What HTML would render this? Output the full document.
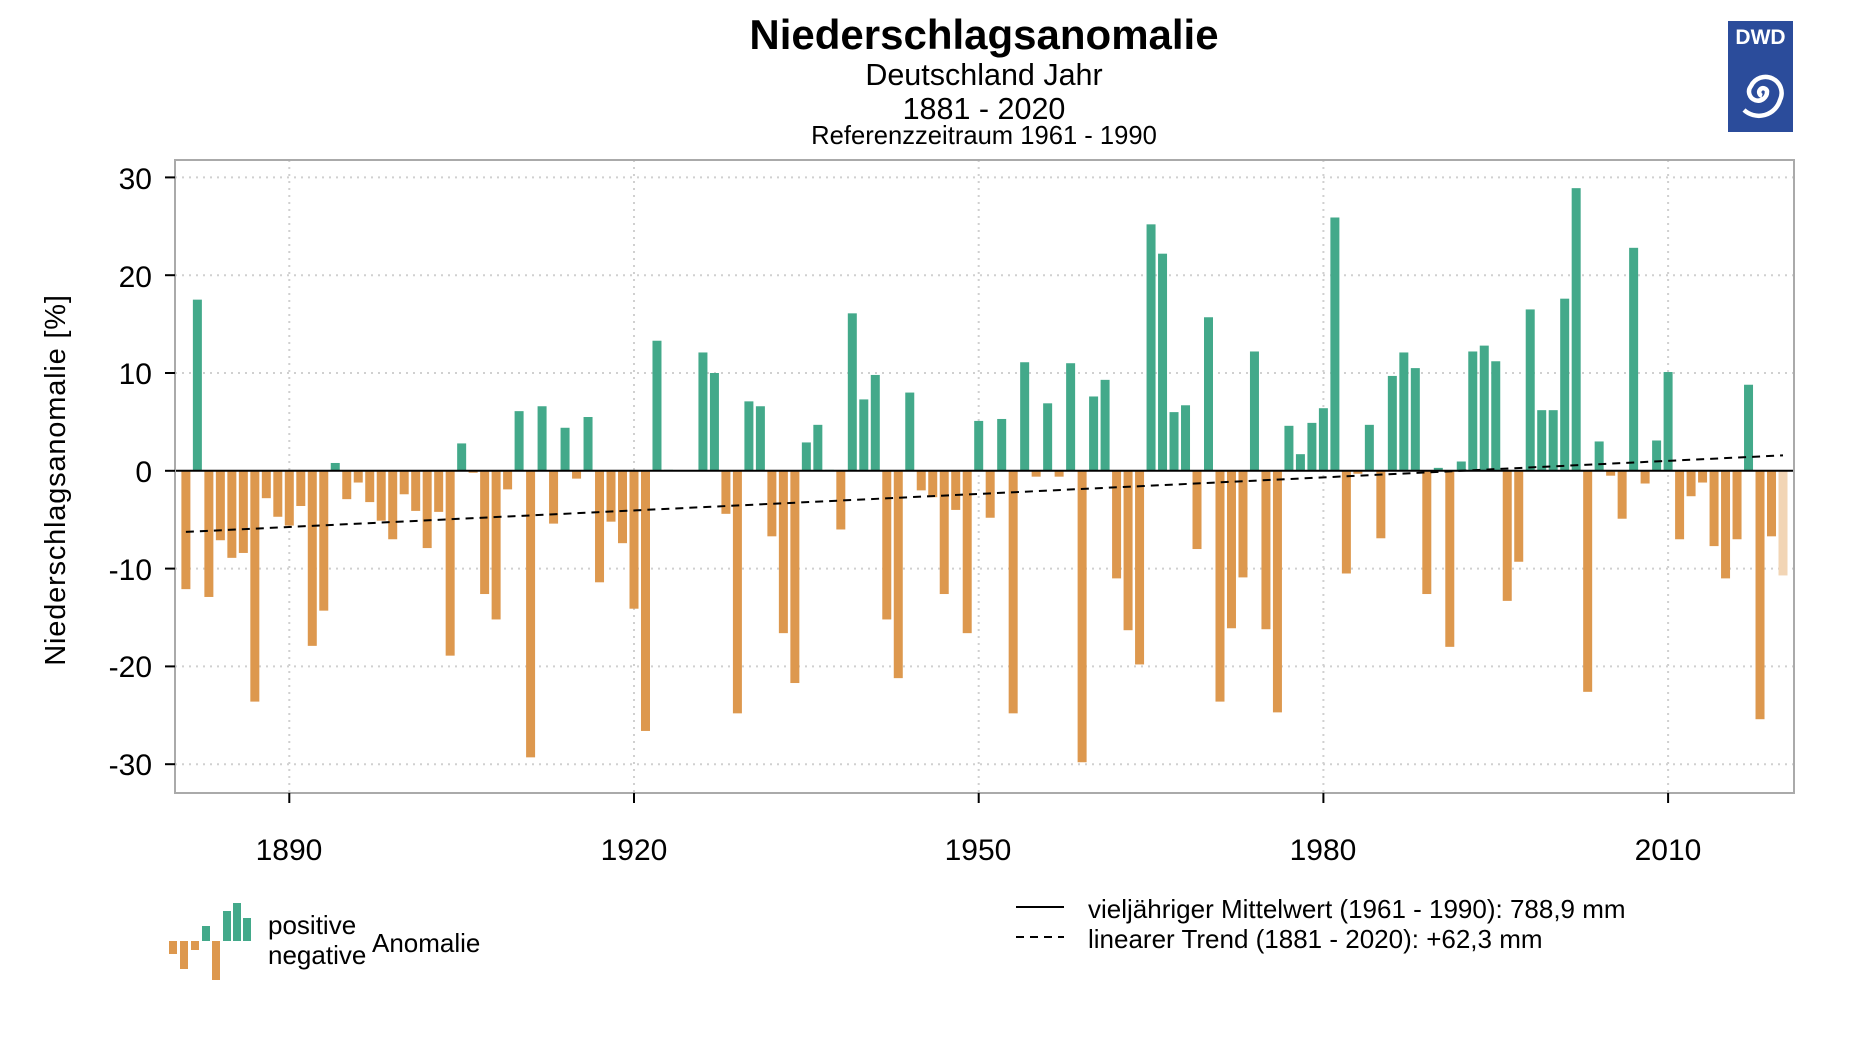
<!DOCTYPE html>
<html><head><meta charset="utf-8"><style>
html,body{margin:0;padding:0;background:#fff;}
svg{display:block;font-family:"Liberation Sans",Arial,sans-serif;}
</style></head><body>
<svg id="s" width="1860" height="1046" viewBox="0 0 1860 1046" xmlns="http://www.w3.org/2000/svg">
<rect width="1860" height="1046" fill="#fff"/>
<text x="984" y="49" font-size="42" font-weight="bold" text-anchor="middle">Niederschlagsanomalie</text>
<text x="984" y="85" font-size="30.5" text-anchor="middle">Deutschland Jahr</text>
<text x="984" y="119" font-size="30.5" text-anchor="middle">1881 - 2020</text>
<text x="984" y="144" font-size="25.6" text-anchor="middle">Referenzzeitraum 1961 - 1990</text>
<g id="logo">
<rect x="1728" y="21" width="65" height="111" fill="#2b4c9b"/>
<text x="1760.5" y="44" font-size="21" font-weight="bold" fill="#fff" text-anchor="middle">DWD</text>
<path d="M1762 96 a4 4 0 1 1 5 -5 a9 9 0 1 1 -16 -5 a16 16 0 1 1 29 14 a22 22 0 0 1 -36 10" fill="none" stroke="#fff" stroke-width="4.5"/>
</g>
<g id="grid" stroke="#d0d0d0" stroke-width="2" stroke-dasharray="2,5"></g>
<g id="bars"></g>
<line x1="174" y1="470.8" x2="1794" y2="470.8" stroke="#000" stroke-width="2"/>
<line id="trend" stroke="#000" stroke-width="2" stroke-dasharray="8,6"/>
<rect x="175" y="160" width="1619" height="633" fill="none" stroke="#aaa" stroke-width="2"/>
<g id="ticks" stroke="#000" stroke-width="2"></g>
<g font-size="30" text-anchor="end">
<text x="152" y="189">30</text><text x="152" y="287">20</text><text x="152" y="384">10</text>
<text x="152" y="482">0</text><text x="152" y="580">-10</text><text x="152" y="677">-20</text><text x="152" y="775">-30</text>
</g>
<g font-size="30" text-anchor="middle">
<text x="289" y="860">1890</text><text x="634" y="860">1920</text><text x="978" y="860">1950</text>
<text x="1323" y="860">1980</text><text x="1668" y="860">2010</text>
</g>
<text transform="translate(65,480) rotate(-90)" font-size="29" text-anchor="middle" letter-spacing="0.8">Niederschlagsanomalie [%]</text>
<g>
<rect x="169" y="941" width="8" height="13" fill="#dd984e"/>
<rect x="180" y="941" width="8" height="28" fill="#dd984e"/>
<rect x="191" y="941" width="8" height="9" fill="#dd984e"/>
<rect x="212" y="941" width="8" height="39" fill="#dd984e"/>
<rect x="202" y="926" width="8" height="15" fill="#43a98a"/>
<rect x="223" y="911" width="8" height="30" fill="#43a98a"/>
<rect x="233" y="903" width="8" height="38" fill="#43a98a"/>
<rect x="243" y="918" width="8" height="23" fill="#43a98a"/>
<text x="268" y="934" font-size="26">positive</text>
<text x="268" y="964" font-size="26">negative</text>
<text x="372" y="952" font-size="26">Anomalie</text>
<line x1="1016" y1="907" x2="1064" y2="907" stroke="#000" stroke-width="2"/>
<line x1="1016" y1="937" x2="1064" y2="937" stroke="#000" stroke-width="2" stroke-dasharray="8,6"/>
<text x="1088" y="918" font-size="26">vieljähriger Mittelwert (1961 - 1990): 788,9 mm</text>
<text x="1088" y="948" font-size="26">linearer Trend (1881 - 2020): +62,3 mm</text>
</g>
</svg>
<script>
var v=[-12.1,17.5,-12.9,-7.1,-8.9,-8.4,-23.6,-2.8,-4.7,-5.6,-3.6,-17.9,-14.3,0.8,-2.9,-1.2,-3.2,-5.1,-7.0,-2.4,-4.1,-7.9,-4.2,-18.9,2.8,-0.2,-12.6,-15.2,-1.9,6.1,-29.3,6.6,-5.4,4.4,-0.8,5.5,-11.4,-5.2,-7.4,-14.1,-26.6,13.3,0.1,0,0,12.1,10.0,-4.4,-24.8,7.1,6.6,-6.7,-16.6,-21.7,2.9,4.7,0.1,-6.0,16.1,7.3,9.8,-15.2,-21.2,8.0,-2.0,-2.7,-12.6,-4.0,-16.6,5.1,-4.8,5.3,-24.8,11.1,-0.6,6.9,-0.6,11.0,-29.8,7.6,9.3,-11.0,-16.3,-19.8,25.2,22.2,6.0,6.7,-8.0,15.7,-23.6,-16.1,-10.9,12.2,-16.2,-24.7,4.6,1.7,4.9,6.4,25.9,-10.5,-0.3,4.7,-6.9,9.7,12.1,10.5,-12.6,0.3,-18.0,0.95,12.2,12.8,11.2,-13.3,-9.3,16.5,6.2,6.2,17.6,28.9,-22.6,3.0,-0.5,-4.9,22.8,-1.3,3.1,10.1,-7.0,-2.6,-1.2,-7.7,-11.0,-7.0,8.8,-25.4,-6.7,-10.7];
var ns="http://www.w3.org/2000/svg",b=document.getElementById("bars"),z=470.8,k=9.78;
function X(y){return 289.3+(y-1890)*11.49;}
for(var i=0;i<v.length;i++){var yr=1881+i,r=document.createElementNS(ns,"rect"),h=Math.abs(v[i])*k;
r.setAttribute("x",X(yr)-4.5);r.setAttribute("width",9);
r.setAttribute("y",v[i]>=0?z-h:z);r.setAttribute("height",h);
r.setAttribute("fill",yr==2020?"#f2d5b5":(v[i]>=0?"#43a98a":"#dd984e"));b.appendChild(r);}
var g=document.getElementById("grid"),t=document.getElementById("ticks");
function L(p,a,c,d,e){var l=document.createElementNS(ns,"line");l.setAttribute("x1",a);l.setAttribute("y1",c);l.setAttribute("x2",d);l.setAttribute("y2",e);p.appendChild(l);}
[1890,1920,1950,1980,2010].forEach(function(y){L(g,X(y),160,X(y),793);L(t,X(y),793,X(y),803);});
[-30,-20,-10,10,20,30].forEach(function(q){L(g,175,z-q*k,1794,z-q*k);});
[-30,-20,-10,0,10,20,30].forEach(function(q){L(t,165,z-q*k,175,z-q*k);});
var tr=document.getElementById("trend");tr.setAttribute("x1",X(1881));tr.setAttribute("y1",z+6.25*k);tr.setAttribute("x2",X(2020));tr.setAttribute("y2",z-1.58*k);
</script>
</body></html>
